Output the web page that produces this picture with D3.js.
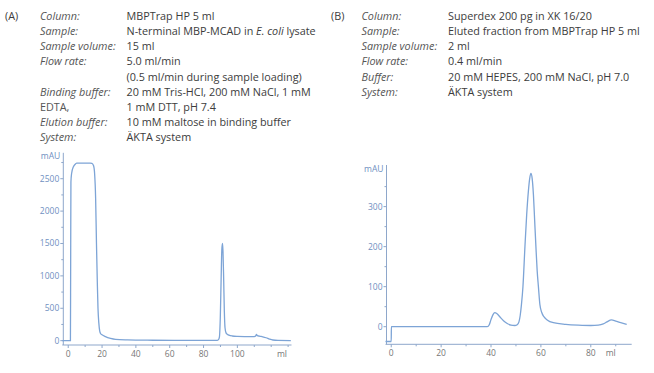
<!doctype html>
<html>
<head>
<meta charset="utf-8">
<style>
  body { margin: 0; background: #fff; }
  text { font-family: "Open Sans", sans-serif; }
  .info { font-size: 10.8px; fill: #3c3c3c; }
  .info .lab { fill: #555; }
  .ytick { font-size: 8.5px; fill: #6f8fbf; }
  .xtick { font-size: 8.5px; fill: #777; }
</style>
<script src="https://d3js.org/d3.v7.min.js"></script>
</head>
<body>
<svg width="654" height="373"></svg>
<script>
// header texts
var infoLabelsA = ["Column:", "Sample:", "Sample volume:", "Flow rate:", "", "Binding buffer:", "EDTA,", "Elution buffer:", "System:"];
var infoValuesA = ["MBPTrap HP 5 ml", "N-terminal MBP-MCAD in *E. coli* lysate", "15 ml", "5.0 ml/min",
                   "(0.5 ml/min during sample loading)", "20 mM Tris-HCl, 200 mM NaCl, 1 mM",
                   "1 mM DTT, pH 7.4", "10 mM maltose in binding buffer", "ÄKTA system"];
var infoLabelsB = ["Column:", "Sample:", "Sample volume:", "Flow rate:", "Buffer:", "System:"];
var infoValuesB = ["Superdex 200 pg in XK 16/20", "Eluted fraction from MBPTrap HP 5 ml", "2 ml",
                   "0.4 ml/min", "20 mM HEPES, 200 mM NaCl, pH 7.0", "ÄKTA system"];

// chromatogram A: [ml, mAU]
var curveA = [[-3.5,0],[1.3,0],[1.45,1200],[1.6,2450],[2,2580],[3,2680],[4,2720],[5,2740],[8,2742],[13,2742],
  [14,2738],[15,2700],[15.6,2580],[16.2,2200],[16.7,1500],[17.2,900],[17.6,500],[18.1,270],[18.6,150],
  [19.1,110],[20,90],[22,62],[25,35],[28,20],[35,12],[50,6],[70,3],[88,3],[88.8,15],[89.4,60],[89.9,350],
  [90.4,950],[90.8,1400],[91.2,1500],[91.5,1380],[91.9,950],[92.3,450],[92.7,200],[93.3,120],[94,100],
  [95,85],[97,72],[100,66],[105,63],[110,62],[110.8,72],[111.3,95],[111.8,78],[113,70],[115,60],[117,45],
  [119,25],[121,10],[124,3],[131.6,1]];
var xTicksA = [0, 20, 40, 60, 80, 100];
var xMinorA = [10, 30, 50, 70, 90, 110, 120, 130];
var yTicksA = [0, 500, 1000, 1500, 2000, 2500];
var yMinorA = [250, 750, 1250, 1750, 2250, 2750];

// chromatogram B: [ml, mAU]
var curveB = [[-2.3,-37],[0,-37],[0.05,0],[38.5,0],[39.3,5],[40,18],[40.8,30],[41.5,35],[42.3,33],[43.5,25],
  [45,15],[46.5,8],[48,4],[49.5,3],[50.5,5],[51.2,12],[51.7,28],[52.2,55],[52.8,100],[53.6,200],[54.3,280],
  [55,340],[55.5,370],[56,383],[56.5,370],[57,330],[57.5,265],[58,200],[58.5,140],[59,100],[59.6,55],
  [60.3,36],[61.2,25],[62.5,17],[65,10],[70,6],[75,4],[80,3],[83,4],[85,7],[86.5,12],[88.3,17],[90,14],
  [92,10],[94.4,6]];
var xTicksB = [0, 20, 40, 60, 80];
var xMinorB = [10, 30, 50, 70, 90];
var yTicksB = [0, 100, 200, 300];
var yMinorB = [50, 150, 250, 350];

var svg = d3.select("svg");

function info(x0, x1, x2, tag, labels, values) {
  var g = svg.append("g").attr("class", "info");
  g.append("text").attr("x", x0).attr("y", 19.7).text(tag);
  labels.forEach(function(l, i) {
    var y = 19.7 + i * 15.2;
    if (l) {
      g.append("text").attr("class", "lab").attr("x", x1).attr("y", y)
       .attr("font-style", l.slice(-1) == ":" ? "italic" : null).text(l);
    }
    var t = g.append("text").attr("x", x2).attr("y", y);
    values[i].split("*").forEach(function(s, k) {
      t.append("tspan").attr("font-style", k % 2 ? "italic" : null).text(s);
    });
  });
}
info(5, 40, 126.5, "(A)", infoLabelsA, infoValuesA);
info(331, 361.5, 448, "(B)", infoLabelsB, infoValuesB);

function chart(data, xd, xr, yd, yr, xt, xm, yt, ym, mauY, mlX) {
  var x = d3.scaleLinear().domain(xd).range(xr);
  var y = d3.scaleLinear().domain(yd).range(yr);
  var g = svg.append("g");
  var axc = "#8ea7cb";

  g.append("line").attr("x1", xr[0]).attr("x2", xr[1]).attr("y1", yr[0]).attr("y2", yr[0])
   .attr("stroke", axc).attr("stroke-width", 1);
  g.append("line").attr("x1", x(xd[0]) + 1).attr("x2", x(xd[0]) + 1).attr("y1", yr[0]).attr("y2", yr[1])
   .attr("stroke", axc).attr("stroke-width", 1);

  g.selectAll(".xt").data(xt.concat(xm)).enter().append("line")
   .attr("x1", d => x(d)).attr("x2", d => x(d))
   .attr("y1", yr[0]).attr("y2", (d, i) => yr[0] + (i < xt.length ? 3 : 2))
   .attr("stroke", axc);
  g.selectAll(".xl").data(xt).enter().append("text").attr("class", "xtick")
   .attr("x", d => x(d)).attr("y", yr[0] + 11.5).attr("text-anchor", "middle").text(d => d);
  g.append("text").attr("class", "xtick").attr("x", mlX).attr("y", yr[0] + 11.5)
   .attr("text-anchor", "middle").text("ml");

  var ax = x(xd[0]) + 1;
  g.selectAll(".yt").data(yt.concat(ym)).enter().append("line")
   .attr("y1", d => y(d)).attr("y2", d => y(d))
   .attr("x1", ax).attr("x2", (d, i) => ax - (i < yt.length ? 3 : 2))
   .attr("stroke", axc);
  g.selectAll(".yl").data(yt).enter().append("text").attr("class", "ytick")
   .attr("x", ax - 4).attr("y", d => y(d) + 3).attr("text-anchor", "end").text(d => d);
  g.append("text").attr("class", "ytick").attr("x", ax - 3).attr("y", mauY)
   .attr("text-anchor", "end").text("mAU");

  g.append("path").datum(data)
   .attr("d", d3.line().x(d => x(d[0])).y(d => y(d[1])).curve(d3.curveMonotoneX))
   .attr("fill", "none").attr("stroke", "#7da4d6").attr("stroke-width", 1.3);
}

chart(curveA, [-3.5, 132], [62.3, 291.5], [-67, 2900], [345, 152.8], xTicksA, xMinorA, yTicksA, yMinorA, 159, 282);
chart(curveB, [-2.3, 96.4], [385.5, 631.7], [-44, 404], [344.3, 165], xTicksB, xMinorB, yTicksB, yMinorB, 172, 610.7);
</script>
</body>
</html>
